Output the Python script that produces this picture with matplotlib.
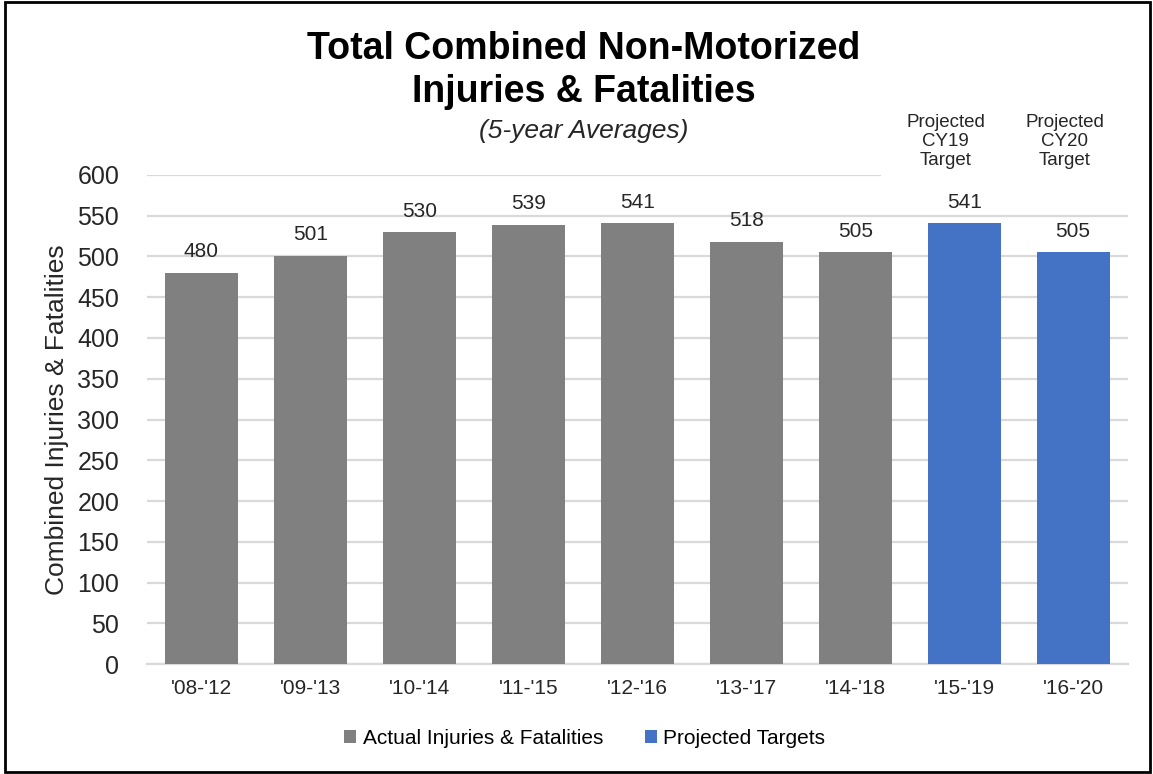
import matplotlib.pyplot as plt
from matplotlib.patches import Patch

plt.rcParams['font.family'] = ['Liberation Sans', 'DejaVu Sans']

# data
periods = ["'08-'12", "'09-'13", "'10-'14", "'11-'15", "'12-'16",
           "'13-'17", "'14-'18", "'15-'19", "'16-'20"]
values = [480, 501, 530, 539, 541, 518, 505, 541, 505]
is_projected = [False] * 7 + [True] * 2
target_notes = ['Projected\nCY19\nTarget', 'Projected\nCY20\nTarget']

gray = '#808080'
blue = '#4472C4'
txt = '#262626'

fig = plt.figure(figsize=(11.53, 7.74), dpi=100)
ax = fig.add_axes([0.1275, 0.142, 0.8505, 0.632])

x = list(range(len(periods)))
colors = [blue if p else gray for p in is_projected]
ax.bar(x, values, width=0.67, color=colors, zorder=3)

for xi, v in zip(x, values):
    ax.text(xi, v + 14, str(v), ha='center', va='bottom', fontsize=15, color=txt, zorder=6)

# projected target notes (white box hides the top gridline like in excel)
proj_x = [xi for xi, p in zip(x, is_projected) if p]
note_shift = [-0.17, -0.08]
for xi, dx, note in zip(proj_x, note_shift, target_notes):
    ax.text(xi + dx, 641, note, ha='center', va='center', fontsize=13.5,
            color=txt, linespacing=1.17, clip_on=False, zorder=4,
            bbox=dict(facecolor='white', edgecolor='none', pad=18))

ax.set_xlim(-0.5, len(periods) - 0.5)
ax.set_ylim(0, 600)
ax.set_yticks(range(0, 601, 50))
ax.set_xticks(x)
ax.set_xticklabels(periods, fontsize=15, color=txt)
ax.tick_params(axis='y', labelsize=18, colors=txt, length=0, pad=20)
ax.tick_params(axis='x', length=0, pad=11)

ax.grid(axis='y', color='#d9d9d9', linewidth=1.6, zorder=0)
for s in ['top', 'right', 'left']:
    ax.spines[s].set_visible(False)
ax.spines['bottom'].set_color('#d9d9d9')
ax.spines['bottom'].set_linewidth(1.6)

ax.set_ylabel('Combined Injuries & Fatalities', fontsize=19, color=txt, labelpad=6)

fig.text(0.506, 0.909, 'Total Combined Non-Motorized\nInjuries & Fatalities',
         ha='center', va='center', fontsize=27, fontweight='bold', linespacing=1.22)
fig.text(0.506, 0.831, '(5-year Averages)', ha='center', va='center',
         fontsize=19, style='italic', color=txt)

handles = [Patch(facecolor=gray, label='Actual Injuries & Fatalities'),
           Patch(facecolor=blue, label='Projected Targets')]
fig.legend(handles=handles, loc='center', bbox_to_anchor=(0.507, 0.046), ncol=2,
           frameon=False, fontsize=15, handlelength=0.6, handleheight=0.6,
           handletextpad=0.3, columnspacing=2.0)

# outer frame
fig.patches.append(plt.Rectangle((0.004, 0.003), 0.993, 0.994, transform=fig.transFigure,
                                 fill=False, edgecolor='black', linewidth=2))

fig.savefig('out.png', dpi=100)
